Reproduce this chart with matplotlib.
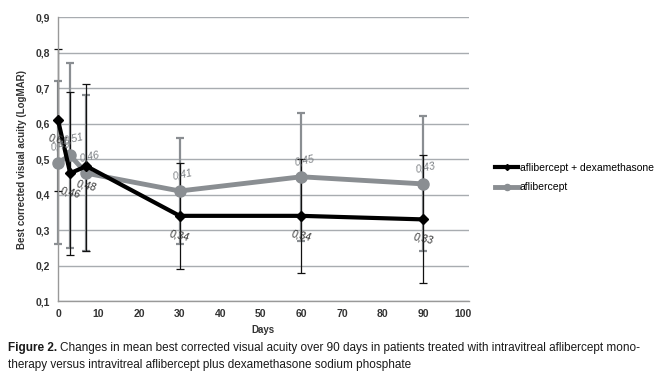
import matplotlib.pyplot as plt

days = [0, 3, 7, 30, 60, 90]

# aflibercept + dexamethasone
dex_mean = [0.61, 0.46, 0.48, 0.34, 0.34, 0.33]
dex_lo = [0.20, 0.23, 0.24, 0.15, 0.16, 0.18]
dex_hi = [0.20, 0.23, 0.23, 0.15, 0.16, 0.18]
dex_labels = ["0,61", "0,46", "0,48", "0,34", "0,34", "0,33"]

# aflibercept
afl_mean = [0.49, 0.51, 0.46, 0.41, 0.45, 0.43]
afl_lo = [0.23, 0.26, 0.22, 0.15, 0.18, 0.19]
afl_hi = [0.23, 0.26, 0.22, 0.15, 0.18, 0.19]
afl_labels = ["0,49", "0,51", "0,46", "0,41", "0,45", "0,43"]

y_ticks = [0.1, 0.2, 0.3, 0.4, 0.5, 0.6, 0.7, 0.8, 0.9]
x_ticks = list(range(0, 101, 10))

plt.rcParams['font.family'] = ['Liberation Sans', 'DejaVu Sans']

fig = plt.figure(figsize=(6.7, 3.92), dpi=100)
ax = fig.add_axes([0.0866, 0.232, 0.613, 0.7246])

grey = '#8a8e92'
e1 = ax.errorbar(days, afl_mean, yerr=[afl_lo, afl_hi], fmt='none', ecolor=grey,
                 elinewidth=1.6, capsize=3, capthick=1.6, zorder=2)
e2 = ax.errorbar(days, dex_mean, yerr=[dex_lo, dex_hi], fmt='none', ecolor='#111111',
                 elinewidth=0.9, capsize=3, capthick=0.9, zorder=2)
for e in (e1, e2):
    for art in e.lines[1] + e.lines[2]:
        art.set_clip_on(False)
ax.plot(days, afl_mean, color=grey, lw=3.5, marker='o', ms=8, zorder=3,
        label='aflibercept', clip_on=False)
ax.plot(days, dex_mean, color='black', lw=3, marker='D', ms=5.5, zorder=4,
        label='aflibercept + dexamethasone', clip_on=False)

for x, y, t in zip(days, dex_mean, dex_labels):
    ax.annotate(t, (x, y), xytext=(0, -14), textcoords='offset points',
                ha='center', va='center', fontsize=7.5, style='italic',
                color='#333333', rotation=-12, zorder=5)
for x, y, t in zip(days, afl_mean, afl_labels):
    ax.annotate(t, (x, y), xytext=(2, 12), textcoords='offset points',
                ha='center', va='center', fontsize=7.5, style='italic',
                color='#7d8185', rotation=12, zorder=5)

ax.set_xlim(0, 101.3)
ax.set_ylim(0.1, 0.9)
ax.set_xticks(x_ticks)
ax.set_yticks(y_ticks)
ax.set_yticklabels([f"{v:.1f}".replace('.', ',') for v in y_ticks])
ax.tick_params(length=0, labelsize=7.5, colors='#333333', pad=6)
for lab in ax.get_xticklabels() + ax.get_yticklabels():
    lab.set_fontweight('bold')
ax.grid(axis='y', color='#a8acb0', lw=1)
ax.set_axisbelow(True)
for s in ['top', 'right']:
    ax.spines[s].set_visible(False)
for s in ['left', 'bottom']:
    ax.spines[s].set_color('#999999')
    ax.spines[s].set_linewidth(1)
ax.set_xlabel('Days', fontsize=7, fontweight='bold', color='#333333', labelpad=4)
ax.set_ylabel('Best corrected visual acuity (LogMAR)', fontsize=7,
              fontweight='bold', color='#333333', labelpad=6)

h, l = ax.get_legend_handles_labels()
ax.legend(h[::-1], l[::-1], loc='center left', bbox_to_anchor=(1.04, 0.435),
          frameon=False, fontsize=7.5, handlelength=2.3, handletextpad=0.1,
          labelspacing=0.9, markerscale=0.55)

r = fig.canvas.get_renderer()
t1 = fig.text(0.012, 0.104, 'Figure 2.', fontsize=8.5, fontweight='bold',
              color='#1a1a1a', va='baseline')
bb = t1.get_window_extent(r)
fig.text(bb.x1 / fig.bbox.width + 0.004, 0.104,
         'Changes in mean best corrected visual acuity over 90 days in patients '
         'treated with intravitreal aflibercept mono-',
         fontsize=8.5, color='#1a1a1a', va='baseline')
fig.text(0.012, 0.062,
         'therapy versus intravitreal aflibercept plus dexamethasone sodium phosphate',
         fontsize=8.5, color='#1a1a1a', va='baseline')

fig.savefig('out.png', dpi=100)
